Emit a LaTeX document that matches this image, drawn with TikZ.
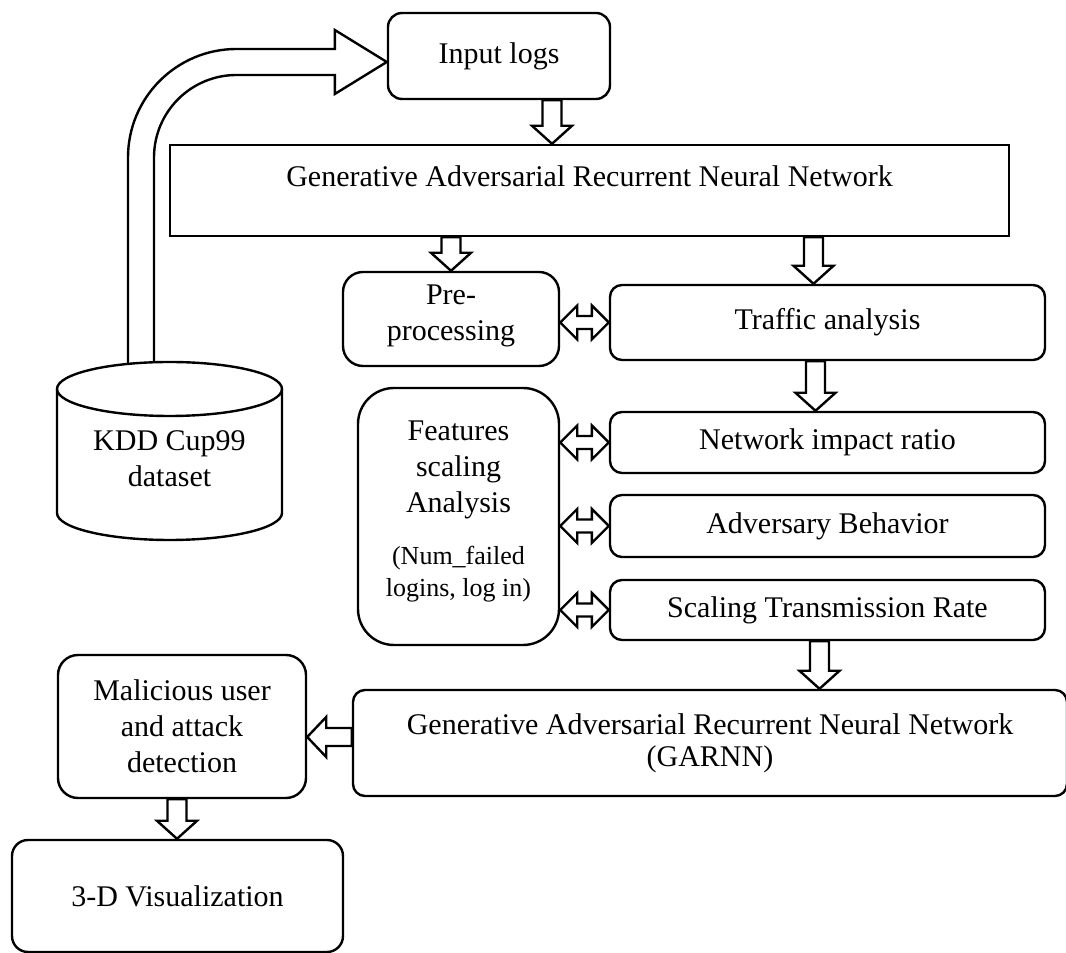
\documentclass[tikz,border=0pt]{standalone}
\usepackage{fontspec}
\setmainfont{Liberation Serif}
\usetikzlibrary{calc}

\newcommand{\smallf}{\fontsize{13}{15.5}\selectfont}

\tikzset{
  box/.style={draw, rounded corners=6pt, align=center, inner sep=0pt,
    font=\fontsize{15}{18}\selectfont},
  flowdown/.style={to path={let \p1=(\tikztostart), \p2=(\tikztotarget) in
    (\x1-4.75pt,\y1) -- (\x1-4.75pt,\y2+9pt) -- (\x1-10pt,\y2+9pt) -- (\x1,\y2)
    -- (\x1+10pt,\y2+9pt) -- (\x1+4.75pt,\y2+9pt) -- (\x1+4.75pt,\y1) -- cycle}},
  flowleft/.style={to path={let \p1=(\tikztostart), \p2=(\tikztotarget) in
    (\x1,\y1+4.5pt) -- (\x2+9.5pt,\y1+4.5pt) -- (\x2+9.5pt,\y1+10pt) -- (\x2,\y1)
    -- (\x2+9.5pt,\y1-10pt) -- (\x2+9.5pt,\y1-4.5pt) -- (\x1,\y1-4.5pt) -- cycle}},
  flowboth/.style={to path={let \p1=(\tikztostart), \p2=(\tikztotarget) in
    (\x1,\y2) -- (\x1+8.5pt,\y2+8.5pt) -- (\x1+8.5pt,\y2+3.25pt) -- (\x2-8.5pt,\y2+3.25pt)
    -- (\x2-8.5pt,\y2+8.5pt) -- (\x2,\y2) -- (\x2-8.5pt,\y2-8.5pt) -- (\x2-8.5pt,\y2-3.25pt)
    -- (\x1+8.5pt,\y2-3.25pt) -- (\x1+8.5pt,\y2-8.5pt) -- cycle}}
}

\begin{document}
\begin{tikzpicture}[x=0.5pt,y=0.5pt,line width=1.2pt,line join=miter]
\useasboundingbox (0,0) rectangle (1066,953);

% boxes
\node[box, rounded corners=7pt, minimum width=111pt, minimum height=43pt] (logs) at (499,897) {Input logs};
\node[box, sharp corners, minimum width=419.5pt, minimum height=45.5pt,
  text height=11pt, text depth=14.5pt] (gtop) at (589.5,762.5) {Generative Adversarial Recurrent Neural Network};
\node[box, rounded corners=10pt, minimum width=108pt, minimum height=47pt] (pre) at (451,634) {{}\\[-11pt]Pre-\\processing};
\node[box, minimum width=217.5pt, minimum height=37.5pt] (traffic) at (827.5,630.5) {Traffic analysis};
\node[box, rounded corners=18pt, minimum width=100.5pt, minimum height=128.5pt] (feat) at (458.5,436.5)
  {Features\\scaling\\Analysis\\[8pt]{\smallf(Num\_failed}\\[-2pt]{\smallf logins, log in)}\\[-10pt]{}};
\node[box, minimum width=217.5pt, minimum height=30.5pt] (impact) at (827.5,510.5) {Network impact ratio};
\node[box, minimum width=217.5pt, minimum height=31pt] (adv) at (827.5,427) {Adversary Behavior};
\node[box, minimum width=217.5pt, minimum height=30pt] (scale) at (827.5,343) {Scaling Transmission Rate};
\node[box, minimum width=357pt, minimum height=53pt] (gbot) at (710,210)
  {Generative Adversarial Recurrent Neural Network\\[-2pt](GARNN)};
\node[box, rounded corners=10pt, minimum width=124pt, minimum height=71.5pt] (mal) at (182,226.5)
  {Malicious user\\and attack\\detection};
\node[box, rounded corners=8pt, minimum width=165.5pt, minimum height=56pt] (viz) at (177.5,57) {3-D Visualization};

% dataset cylinder
\node[align=center, inner sep=0pt, font=\fontsize{15}{18}\selectfont] (kdd) at (169.5,494) {KDD Cup99\\dataset};
\draw (57,564) -- (57,440) arc[start angle=180, end angle=360, x radius=56.25pt, y radius=13.5pt] -- (282,564);
\draw (169.5,564) ellipse[x radius=56.25pt, y radius=13.5pt];
\coordinate (kddtop) at (141,590);

% bent arrow from dataset to logs
\draw let \p1=(kddtop), \p2=([yshift=-3pt]logs.west) in
  (\x1-6.5pt,\y1) -- (\x1-6.5pt,\y2-47.75pt)
  .. controls (\x1-6.5pt,\y2-17.8pt) and (\x1+17.8pt,\y2+6.5pt) .. (\x1+47.75pt,\y2+6.5pt)
  -- (\x2-26pt,\y2+6.5pt) -- (\x2-26pt,\y2+16pt) -- (\x2,\y2) -- (\x2-26pt,\y2-16pt)
  -- (\x2-26pt,\y2-6.5pt) -- (\x1+47.75pt,\y2-6.5pt)
  .. controls (\x1+24.95pt,\y2-6.5pt) and (\x1+6.5pt,\y2-24.95pt) .. (\x1+6.5pt,\y2-47.75pt)
  -- (\x1+6.5pt,\y1);

% hollow arrows
\draw ([xshift=26.5pt]logs.south) to[flowdown] (gtop.north);
\draw (pre.north |- gtop.south) to[flowdown] (pre.north);
\draw ($(traffic.north |- gtop.south)+(-14,0)$) to[flowdown] (traffic.north);
\draw ([xshift=-6pt]traffic.south) to[flowdown] (impact.north);
\draw ([xshift=-4pt]scale.south) to[flowdown] (gbot.north);
\draw ([xshift=-2.5pt]mal.south) to[flowdown] (viz.north);
\draw ([yshift=3pt]gbot.west) to[flowleft] (mal.east);
\draw (pre.east) to[flowboth] (traffic.west);
\draw (feat.east) to[flowboth] (impact.west);
\draw (feat.east) to[flowboth] (adv.west);
\draw (feat.east) to[flowboth] (scale.west);
\end{tikzpicture}
\end{document}
